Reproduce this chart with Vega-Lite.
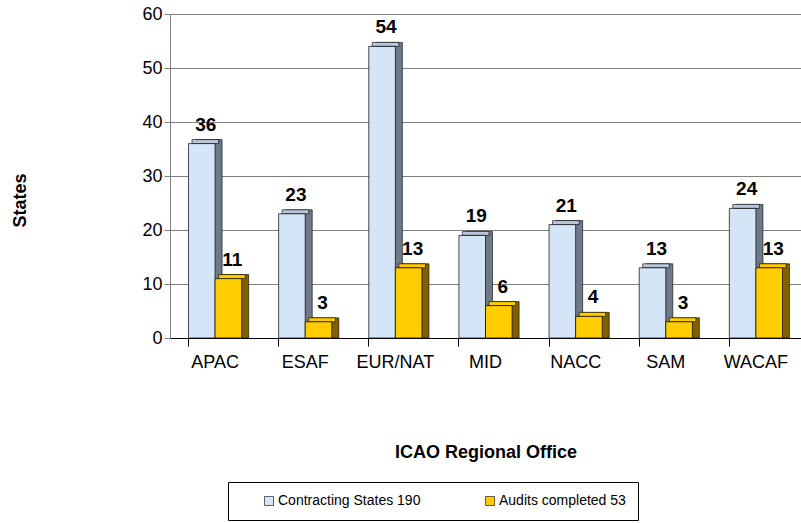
{
  "$schema": "https://vega.github.io/schema/vega-lite/v6.json",
  "width": 631,
  "height": 324,
  "autosize": "none",
  "padding": {"left": 170, "top": 14, "right": 0, "bottom": 185},
  "background": "#ffffff",
  "config": {"view": {"stroke": null}, "font": "Liberation Sans"},
  "data": {
    "values": [
      {"region": "APAC", "series": "Contracting States 190", "value": 36},
      {"region": "APAC", "series": "Audits completed 53", "value": 11},
      {"region": "ESAF", "series": "Contracting States 190", "value": 23},
      {"region": "ESAF", "series": "Audits completed 53", "value": 3},
      {"region": "EUR/NAT", "series": "Contracting States 190", "value": 54},
      {"region": "EUR/NAT", "series": "Audits completed 53", "value": 13},
      {"region": "MID", "series": "Contracting States 190", "value": 19},
      {"region": "MID", "series": "Audits completed 53", "value": 6},
      {"region": "NACC", "series": "Contracting States 190", "value": 21},
      {"region": "NACC", "series": "Audits completed 53", "value": 4},
      {"region": "SAM", "series": "Contracting States 190", "value": 13},
      {"region": "SAM", "series": "Audits completed 53", "value": 3},
      {"region": "WACAF", "series": "Contracting States 190", "value": 24},
      {"region": "WACAF", "series": "Audits completed 53", "value": 13}
    ]
  },
  "resolve": {"axis": {"x": "independent"}, "scale": {"xOffset": "independent"}},
  "layer": [
    {
      "mark": {"type": "bar", "yOffset": -4, "y2Offset": -4, "stroke": "#000000", "strokeWidth": 0.6},
      "encoding": {
        "x": {
          "field": "region", "type": "nominal",
          "sort": ["APAC", "ESAF", "EUR/NAT", "MID", "NACC", "SAM", "WACAF"],
          "scale": {"paddingInner": 0.41, "paddingOuter": 0.205},
          "axis": {"orient": "bottom", "title": null, "labels": false, "bandPosition": 0, "tickSize": 8, "tickColor": "#000000", "domain": false}
        },
        "xOffset": {"field": "series", "type": "nominal", "sort": ["Contracting States 190", "Audits completed 53"], "scale": {"range": [7, 60.2], "paddingInner": 0, "paddingOuter": 0}},
        "y": {"field": "value", "type": "quantitative", "stack": null, "scale": {"domain": [0, 60]}},
        "fill": {"condition": {"test": "datum.series === 'Audits completed 53'", "value": "#806000"}, "value": "#6d7a8a"}
      }
    },
    {
      "mark": {"type": "bar", "yOffset": -4, "y2Offset": 0, "stroke": "#000000", "strokeWidth": 0.6},
      "encoding": {
        "x": {"field": "region", "type": "nominal", "sort": ["APAC", "ESAF", "EUR/NAT", "MID", "NACC", "SAM", "WACAF"], "axis": null},
        "xOffset": {"field": "series", "type": "nominal", "sort": ["Contracting States 190", "Audits completed 53"], "scale": {"range": [3.5, 56.7], "paddingInner": 0, "paddingOuter": 0}},
        "y": {"field": "value", "type": "quantitative", "stack": null},
        "y2": {"field": "value"},
        "fill": {"condition": {"test": "datum.series === 'Audits completed 53'", "value": "#ffcc00"}, "value": "#b9c7d8"}
      }
    },
    {
      "mark": {"type": "bar", "stroke": "#000000", "strokeWidth": 0.7},
      "encoding": {
        "x": {
          "field": "region", "type": "nominal",
          "sort": ["APAC", "ESAF", "EUR/NAT", "MID", "NACC", "SAM", "WACAF"],
          "axis": {"orient": "bottom", "title": "ICAO Regional Office", "labelAngle": 0, "ticks": false, "domain": true, "domainColor": "#000000", "labelFontSize": 18, "labelColor": "#000000", "labelPadding": 15, "titleFontSize": 18, "titleFontWeight": "bold", "titleColor": "#000000", "titlePadding": 72}
        },
        "xOffset": {"field": "series", "type": "nominal", "sort": ["Contracting States 190", "Audits completed 53"], "scale": {"paddingInner": 0, "paddingOuter": 0}},
        "y": {
          "field": "value", "type": "quantitative", "stack": null,
          "axis": {"title": "States", "values": [0, 10, 20, 30, 40, 50, 60], "grid": true, "gridColor": "#808080", "domainColor": "#808080", "tickColor": "#808080", "tickSize": 6, "labelFontSize": 18, "labelColor": "#000000", "labelPadding": 2, "titleFontSize": 18, "titleFontWeight": "bold", "titleColor": "#000000", "titleAngle": -90, "titleX": -150, "titleY": 186, "titleAlign": "center", "titleBaseline": "middle"}
        },
        "color": {
          "field": "series", "type": "nominal",
          "sort": ["Contracting States 190", "Audits completed 53"],
          "scale": {"domain": ["Contracting States 190", "Audits completed 53"], "range": ["#d4e5f7", "#ffcc00"]},
          "legend": {"orient": "none", "legendX": 58, "legendY": 468, "direction": "horizontal", "title": null, "strokeColor": "#000000", "fillColor": "#ffffff", "padding": 12, "symbolType": "square", "symbolSize": 81, "symbolStrokeColor": "#000000", "symbolStrokeWidth": 0.6, "symbolOpacity": 1, "labelFontSize": 14, "labelColor": "#000000", "symbolOffset": 22, "columnPadding": 40, "labelOffset": 2}
        }
      }
    },
    {
      "mark": {"type": "text", "fontWeight": "bold", "fontSize": 19, "dy": -19, "dx": 4, "baseline": "middle", "color": "#000000"},
      "encoding": {
        "x": {"field": "region", "type": "nominal", "sort": ["APAC", "ESAF", "EUR/NAT", "MID", "NACC", "SAM", "WACAF"], "axis": null},
        "xOffset": {"field": "series", "type": "nominal", "sort": ["Contracting States 190", "Audits completed 53"], "scale": {"type": "point", "range": [13.3, 39.9], "padding": 0}},
        "y": {"field": "value", "type": "quantitative", "stack": null},
        "text": {"field": "value", "type": "quantitative"}
      }
    }
  ]
}
